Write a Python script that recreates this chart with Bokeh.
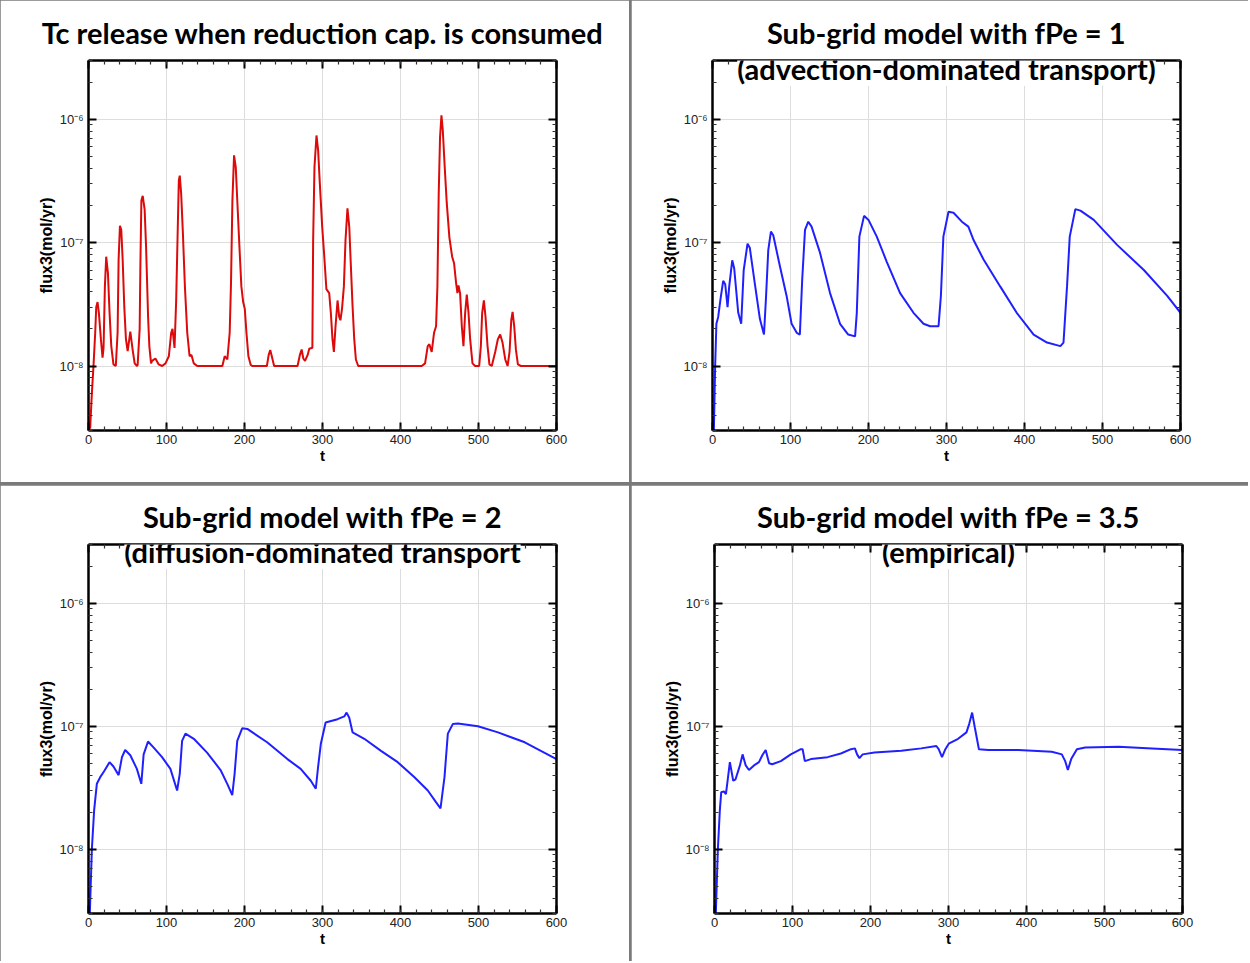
from bokeh.plotting import figure
from bokeh.layouts import row, column
from bokeh.models import (Range1d, FixedTicker, LinearAxis, LogAxis, Label,
                          CustomJSTickFormatter, ColumnDataSource)
from bokeh.embed import file_html
from bokeh.resources import INLINE

# ---------------- data ----------------
red_t = [2.1, 4.3, 6.4, 8.6, 9.9, 11.6, 13.3, 15.9, 18, 19.3, 21, 22.7, 24.9, 27, 29.2, 32, 35,
         37.3, 38.6, 40.3, 42, 43.8, 45.9, 48, 50.2, 53.6, 56.6, 59.2, 62.2, 63, 65.6, 66.5, 67.8,
         69.5, 72, 73.8, 76.4, 78, 80.2, 81.5, 85.8, 90, 94.4, 98.7, 103, 106, 107.7, 110.3, 112.4,
         114.1, 115.8, 117, 118.8, 121, 123.6, 126.6, 129.6, 132, 135, 139.4, 171.6, 174.6, 178,
         181, 182.7, 184.5, 186.6, 188.8, 190.9, 193.5, 196, 198.3, 200.4, 202.5, 205, 208, 210,
         228.7, 231, 233, 235, 238, 268, 271, 273.3, 275.4, 277.6, 281, 283, 286, 287, 288, 289.7,
         292.3, 294.4, 296.6, 299.6, 302, 305, 308.6, 310.7, 312.8, 314.6, 316.7, 319.3, 321.4,
         323, 325, 327.4, 329.5, 332, 334.3, 336.4, 338.5, 340.7, 342.8, 345.8, 427.2, 431.5,
         434.9, 437, 440, 443, 445.6, 447.3, 449, 450.7, 452.5, 454.2, 456.7, 459.3, 462.7, 466.2,
         468.7, 471.3, 473, 474.3, 476.4, 478.6, 480.7, 482.9, 485, 487.2, 489.3, 492.3, 495.7,
         500.9, 503, 504.7, 506.9, 509, 511.6, 514, 517, 521.4, 524.8, 527.8, 530.8, 534.3, 537.3,
         539.8, 542, 543.7, 545.8, 548, 550.5, 554.4, 600]
red_v = [3.1e-9, 6e-9, 1e-8, 1.86e-8, 3e-8, 3.3e-8, 2.7e-8, 1.65e-8, 1.17e-8, 1.4e-8, 4.4e-8, 7.7e-8,
         5.7e-8, 2.7e-8, 1.45e-8, 1.03e-8, 1e-8, 1.86e-8, 7.3e-8, 1.37e-7, 1.27e-7, 7.3e-8, 3e-8,
         1.65e-8, 1.32e-8, 1.9e-8, 1.35e-8, 1.05e-8, 1e-8, 1.02e-8, 2e-8, 6.4e-8, 2.2e-7, 2.4e-7,
         1.85e-7, 9.3e-8, 2.5e-8, 1.45e-8, 1.05e-8, 1.1e-8, 1.15e-8, 1.03e-8, 1e-8, 1.05e-8,
         1.2e-8, 1.86e-8, 2e-8, 1.4e-8, 3.4e-8, 1.05e-7, 3.2e-7, 3.5e-7, 2.5e-7, 1.2e-7, 4.4e-8,
         1.86e-8, 1.2e-8, 1.23e-8, 1.05e-8, 1e-8, 1e-8, 1.2e-8, 1.13e-8, 1.86e-8, 4.7e-8, 2.2e-7,
         5.1e-7, 4.1e-7, 2.1e-7, 9.3e-8, 4.4e-8, 3.3e-8, 2.9e-8, 1.86e-8, 1.2e-8, 1.02e-8, 1e-8,
         1e-8, 1.23e-8, 1.35e-8, 1.2e-8, 1e-8, 1e-8, 1.23e-8, 1.36e-8, 1.15e-8, 1.1e-8, 1.23e-8,
         1.38e-8, 1.4e-8, 1.4e-8, 1.04e-7, 4.1e-7, 7.4e-7, 5.6e-7, 3e-7, 1.35e-7, 8.2e-8, 4.2e-8,
         3.9e-8, 2.7e-8, 1.65e-8, 1.3e-8, 2.1e-8, 3.4e-8, 2.5e-8, 2.35e-8, 2.9e-8, 4.4e-8,
         1.05e-7, 1.9e-7, 1.35e-7, 6.4e-8, 3.1e-8, 1.65e-8, 1.13e-8, 1e-8, 1e-8, 1.05e-8,
         1.45e-8, 1.5e-8, 1.3e-8, 1.86e-8, 2.1e-8, 4.4e-8, 2.5e-7, 7.2e-7, 1.08e-6, 8.2e-7, 4.1e-7,
         2.1e-7, 1.1e-7, 7.7e-8, 6.8e-8, 4.7e-8, 3.9e-8, 4.5e-8, 3.9e-8, 2.1e-8, 1.45e-8, 2.7e-8,
         3.8e-8, 2.7e-8, 1.65e-8, 1.05e-8, 1e-8, 1e-8, 1.45e-8, 2.7e-8, 3.4e-8, 2.5e-8, 1.45e-8,
         1.03e-8, 1e-8, 1.3e-8, 1.65e-8, 1.8e-8, 1.55e-8, 1.13e-8, 1e-8, 1.3e-8, 2.35e-8, 2.75e-8,
         2.1e-8, 1.35e-8, 1.03e-8, 1e-8, 1e-8]

fpe1_t = [1.5, 3.4, 5, 7.3, 10.3, 13.7, 16.3, 19.3, 21.4, 25.3, 27.8, 33, 36.8, 40, 44.9, 47.8,
          54.4, 60.8, 66, 68.5, 71.5, 74.9, 77.9, 86.5, 95, 101.4, 108, 112, 115, 118.6, 122.8,
          127, 137.8, 150.7, 163.5, 174, 182.8, 185, 188.3, 194.3, 200, 210.6, 223.4, 240.5,
          257.7, 270.5, 279, 289.8, 292.8, 296, 302.6, 309, 319.7, 328, 334.7, 347.5, 369, 390,
          411.7, 428.9, 446, 450, 454.5, 458, 465.2, 471.7, 488.8, 518.7, 553, 583, 600]
fpe1_v = [2.5e-9, 1e-8, 2.2e-8, 2.5e-8, 3.5e-8, 4.9e-8, 4.6e-8, 3e-8, 4.4e-8, 7.2e-8, 6.2e-8,
          2.7e-8, 2.2e-8, 6e-8, 9.8e-8, 9.1e-8, 4.6e-8, 2.4e-8, 1.8e-8, 3.5e-8, 8.7e-8, 1.23e-7,
          1.15e-7, 6.4e-8, 3.7e-8, 2.2e-8, 1.86e-8, 1.8e-8, 5e-8, 1.27e-7, 1.48e-7, 1.35e-7,
          8.3e-8, 3.9e-8, 2.2e-8, 1.8e-8, 1.74e-8, 2.7e-8, 1.12e-7, 1.65e-7, 1.53e-7, 1.12e-7,
          7e-8, 3.9e-8, 2.7e-8, 2.2e-8, 2.1e-8, 2.1e-8, 3.7e-8, 1.12e-7, 1.78e-7, 1.75e-7,
          1.48e-7, 1.35e-7, 1.05e-7, 7.3e-8, 4.4e-8, 2.7e-8, 1.8e-8, 1.55e-8, 1.45e-8, 1.55e-8,
          4.4e-8, 1.12e-7, 1.87e-7, 1.82e-7, 1.53e-7, 9.6e-8, 6e-8, 3.7e-8, 2.7e-8]

fpe2_t = [1.3, 4.3, 7.3, 10.7, 15, 20, 27, 32, 38.6, 42.9, 47, 53.6, 62, 67.7, 70.7, 76.3, 83.6,
          94.3, 105, 113.6, 117, 120, 124.3, 135, 152, 169.3, 177.9, 184.3, 187.3, 190.7, 197,
          203.6, 229, 255, 272, 285, 291.4, 294.4, 297.9, 304, 319.3, 327.9, 330.9, 334.3, 338.6,
          353.6, 375, 396.4, 417.9, 435, 445.7, 451.3, 456.4, 460.7, 467, 473.6, 499.3, 525,
          559.3, 600]
fpe2_v = [2.5e-9, 1e-8, 2.1e-8, 3.4e-8, 3.85e-8, 4.3e-8, 5.1e-8, 4.7e-8, 4e-8, 5.6e-8, 6.4e-8,
          5.8e-8, 4.5e-8, 3.4e-8, 5.9e-8, 7.5e-8, 6.7e-8, 5.6e-8, 4.5e-8, 3e-8, 4.1e-8, 7.6e-8,
          8.7e-8, 7.9e-8, 6.1e-8, 4.4e-8, 3.4e-8, 2.75e-8, 4.1e-8, 7.6e-8, 9.6e-8, 9.5e-8,
          7.4e-8, 5.4e-8, 4.5e-8, 3.6e-8, 3.1e-8, 4.7e-8, 7.2e-8, 1.07e-7, 1.14e-7, 1.2e-7,
          1.29e-7, 1.17e-7, 8.9e-8, 7.9e-8, 6.3e-8, 5.1e-8, 3.85e-8, 3e-8, 2.4e-8, 2.15e-8,
          3.85e-8, 8.7e-8, 1.04e-7, 1.05e-7, 1.0e-7, 8.9e-8, 7.4e-8, 5.4e-8]

fpe35_t = [1.3, 4.3, 6.9, 8.6, 12, 14.6, 16.3, 19.7, 24, 27, 32.6, 36, 40, 44.2, 50.6, 57, 61.3,
           65.6, 70, 74, 85, 97.8, 110.7, 113, 115.8, 123.6, 145, 162, 175, 180, 182.8, 185.8,
           190, 205, 239.4, 265, 284.4, 287.4, 291.7, 296, 300.3, 312.3, 323, 326.5, 330.3,
           333.7, 339, 351, 389.5, 432.4, 445.3, 449.6, 453, 457.3, 464.6, 475.3, 518, 561, 600]
fpe35_v = [2.5e-9, 1e-8, 2.1e-8, 2.9e-8, 2.95e-8, 2.8e-8, 3.4e-8, 5.1e-8, 3.6e-8, 3.7e-8, 4.8e-8,
           5.9e-8, 4.8e-8, 4.4e-8, 4.8e-8, 5.1e-8, 5.8e-8, 6.4e-8, 5e-8, 4.9e-8, 5.2e-8, 5.9e-8,
           6.5e-8, 6.5e-8, 5.2e-8, 5.4e-8, 5.6e-8, 6e-8, 6.5e-8, 6.6e-8, 5.9e-8, 5.5e-8, 5.9e-8,
           6.1e-8, 6.3e-8, 6.6e-8, 6.9e-8, 6.5e-8, 5.6e-8, 6.5e-8, 7.2e-8, 7.9e-8, 8.9e-8,
           1.04e-7, 1.29e-7, 9.8e-8, 6.5e-8, 6.4e-8, 6.4e-8, 6.2e-8, 5.9e-8, 5.2e-8, 4.4e-8,
           5.4e-8, 6.5e-8, 6.7e-8, 6.8e-8, 6.6e-8, 6.4e-8]

x_major = [0, 100, 200, 300, 400, 500, 600]
x_minor = [v for v in range(0, 601, 20)]
y_major = [1e-8, 1e-7, 1e-6]
y_minor = [m * 10.0 ** e for e in (-9, -8, -7, -6) for m in range(2, 10)]

titles = ["Tc release when reduction cap. is consumed",
          "Sub-grid model with fPe = 1",
          "Sub-grid model with fPe = 2",
          "Sub-grid model with fPe = 3.5"]
subtitles = [None,
             "(advection-dominated transport)",
             "(diffusion-dominated transport",
             "(empirical)"]

RED = "#dc0a0a"
BLUE = "#2020ff"
TITLE_FONT = "Lato"
TITLE_SIZE = "29px"

sup_formatter = r"""
const s = {"6": "\u2076", "7": "\u2077", "8": "\u2078", "9": "\u2079"};
const e = Math.round(-Math.log10(tick));
return "10\u207B" + s[String(e)];
"""


def style_axis(ax, labels=True):
    ax.axis_line_width = 2.5
    ax.axis_line_color = "black"
    ax.major_tick_in = 8
    ax.major_tick_out = 0
    ax.minor_tick_in = 4
    ax.minor_tick_out = 0
    ax.major_tick_line_width = 2
    ax.minor_tick_line_width = 1.2
    ax.major_tick_line_color = "black"
    ax.minor_tick_line_color = "#333333"
    ax.major_label_text_font = "Liberation Sans"
    if labels:
        ax.major_label_text_font_size = "13px"
        ax.major_label_text_color = "#222222"
    else:
        ax.major_label_text_font_size = "0px"
        ax.major_label_text_color = None
        ax.major_label_standoff = 0


def panel(t, v, color, title, subtitle, w, h, left, right, top, bottom):
    p = figure(width=w, height=h, y_axis_type="log", output_backend="svg",
               toolbar_location=None, x_range=Range1d(0, 600), y_range=Range1d(3e-9, 3e-6),
               min_border_left=left, min_border_right=right, min_border_top=top,
               min_border_bottom=bottom)
    p.outline_line_color = None
    p.background_fill_color = "white"
    p.border_fill_color = "white"
    p.title.text = title
    p.title.align = "center"
    p.title.text_font = TITLE_FONT
    p.title.text_font_style = "bold"
    p.title.text_font_size = TITLE_SIZE
    p.title.text_color = "black"
    p.title.standoff = 22

    xt = FixedTicker(ticks=x_major, minor_ticks=x_minor)
    yt = FixedTicker(ticks=y_major, minor_ticks=y_minor)
    p.xaxis.ticker = xt
    p.yaxis.ticker = yt
    p.yaxis.formatter = CustomJSTickFormatter(code=sup_formatter)
    p.xgrid.ticker = xt
    p.ygrid.ticker = yt
    p.grid.grid_line_color = "#dddddd"
    p.grid.grid_line_width = 1
    style_axis(p.xaxis[0])
    style_axis(p.yaxis[0])
    p.xaxis.major_label_standoff = 4
    p.yaxis.major_label_standoff = 5
    p.xaxis.axis_label = "t"
    p.yaxis.axis_label = "flux3(mol/yr)"
    for ax in (p.xaxis[0], p.yaxis[0]):
        ax.axis_label_text_font = "Liberation Sans"
        ax.axis_label_text_font_style = "bold"
        ax.axis_label_text_color = "black"
    p.xaxis.axis_label_text_font_size = "15px"
    p.yaxis.axis_label_text_font_size = "16px"
    p.xaxis.axis_label_standoff = 0
    p.yaxis.axis_label_standoff = 2

    top_ax = LinearAxis(ticker=xt)
    style_axis(top_ax, labels=False)
    p.add_layout(top_ax, "above")
    right_ax = LogAxis(ticker=yt)
    style_axis(right_ax, labels=False)
    p.add_layout(right_ax, "right")

    src = ColumnDataSource(dict(t=t, v=v))
    p.line("t", "v", source=src, line_color=color, line_width=2)

    if subtitle:
        p.add_layout(Label(text=subtitle, x=234, y=362, x_units="screen", y_units="screen",
                           text_color="black", background_fill_color="white",
                           text_font=TITLE_FONT, text_font_style="bold",
                           text_font_size=TITLE_SIZE, text_align="center",
                           text_baseline="middle"))
    return p


p1 = panel(red_t, red_v, RED, titles[0], subtitles[0], 629, 482, 88, 73, 60, 52)
p2 = panel(fpe1_t, fpe1_v, BLUE, titles[1], subtitles[1], 617, 482, 81, 68, 60, 52)
p3 = panel(fpe2_t, fpe2_v, BLUE, titles[2], subtitles[2], 629, 476, 88, 73, 58, 48)
p4 = panel(fpe35_t, fpe35_v, BLUE, titles[3], subtitles[3], 617, 476, 83, 66, 58, 48)

layout = column(row(p1, p2, spacing=2), row(p3, p4, spacing=2), spacing=3,
                styles={"background-color": "#7a7a7a"})

open("out.html", "w").write(file_html(layout, INLINE))
